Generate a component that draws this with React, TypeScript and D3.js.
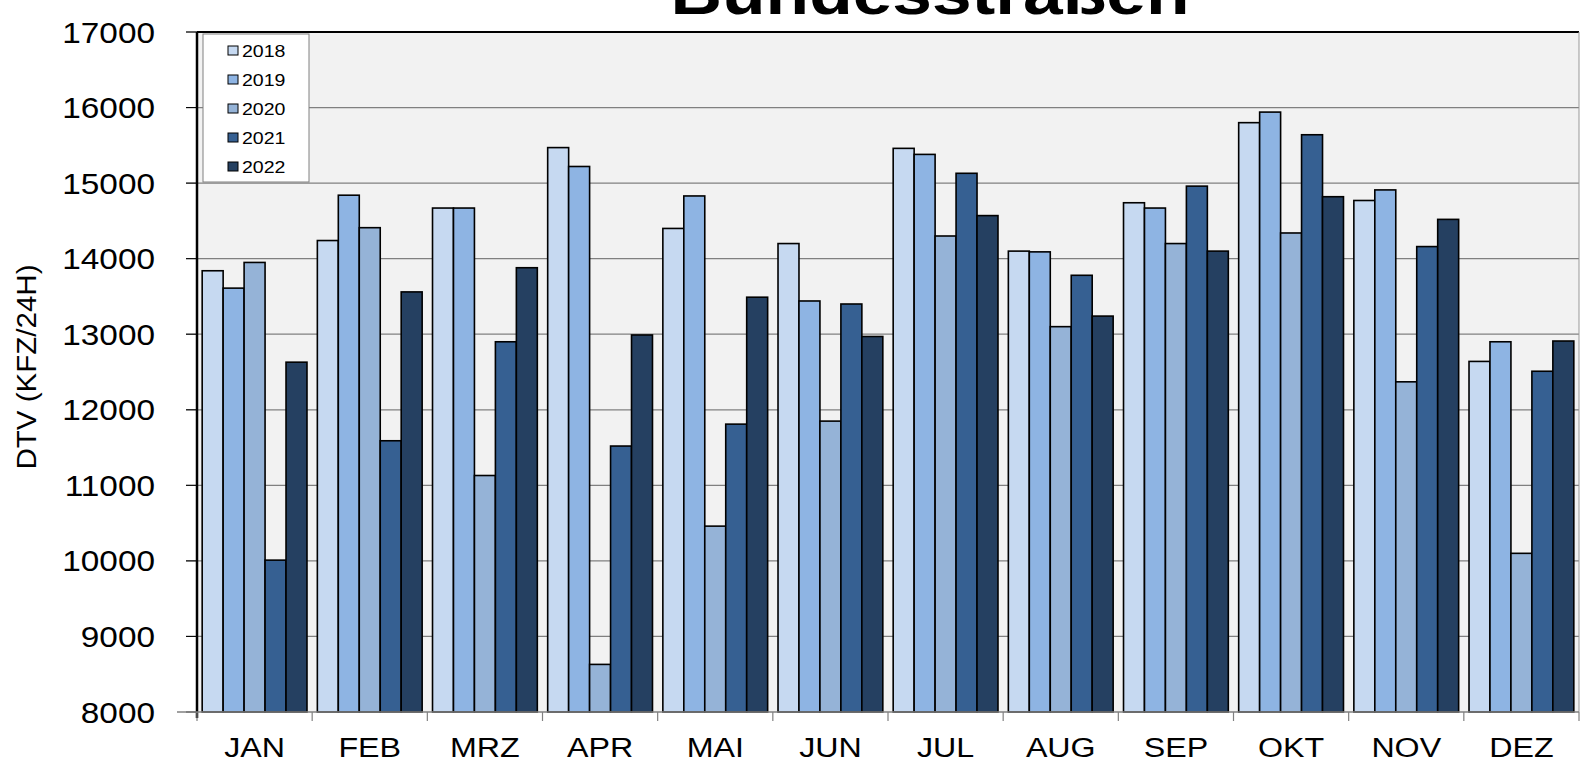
import React, { useEffect, useRef } from 'react';
import * as d3 from 'd3';

// Chart data
const months = ['JAN', 'FEB', 'MRZ', 'APR', 'MAI', 'JUN', 'JUL', 'AUG', 'SEP', 'OKT', 'NOV', 'DEZ'];
const years = ['2018', '2019', '2020', '2021', '2022'];
const values2018 = [13840, 14240, 14670, 15470, 14400, 14200, 15460, 14100, 14740, 15800, 14770, 12640];
const values2019 = [13610, 14840, 14670, 15220, 14830, 13440, 15380, 14090, 14670, 15940, 14910, 12900];
const values2020 = [13950, 14410, 11130, 8630, 10460, 11850, 14300, 13100, 14200, 14340, 12370, 10100];
const values2021 = [10010, 11590, 12900, 11520, 11810, 13400, 15130, 13780, 14960, 15640, 14160, 12510];
const values2022 = [12630, 13560, 13880, 12990, 13490, 12970, 14570, 13240, 14100, 14820, 14520, 12910];
const yTicks = [8000, 9000, 10000, 11000, 12000, 13000, 14000, 15000, 16000, 17000];
const colors = ['#c6d9f1', '#8eb4e3', '#95b3d7', '#366092', '#254061'];

// Plot area in page pixels
const left = 197;
const right = 1579;
const top = 32;
const bottom = 712;
// the original picture is stretched a little horizontally
const stretch = 1.15;

function App() {
    const svgRef = useRef(null);

    useEffect(() => {
        const series = [values2018, values2019, values2020, values2021, values2022];
        const svg = d3.select(svgRef.current).html('');
        const font = '"Liberation Sans", Arial, sans-serif';

        const x = d3.scaleBand().domain(months).range([left, right]).paddingInner(0.09).paddingOuter(0.045);
        const band = d3.scaleBand().domain(years).range([0, x.bandwidth()]);
        const y = d3.scaleLinear().domain([8000, 17000]).range([bottom, top]);
        const step = (right - left) / months.length;

        // Plot background
        svg.append('rect')
            .attr('x', left).attr('y', top)
            .attr('width', right - left).attr('height', bottom - top)
            .attr('fill', '#f2f2f2');

        // Gridlines
        svg.append('g').selectAll('line')
            .data(yTicks.slice(1))
            .enter().append('line')
            .attr('x1', left - 11).attr('x2', right)
            .attr('y1', (d) => y(d)).attr('y2', (d) => y(d))
            .attr('stroke', '#808080').attr('stroke-width', 1.2);

        // Bars
        series.forEach((vals, i) => {
            svg.append('g').selectAll('rect')
                .data(vals)
                .enter().append('rect')
                .attr('x', (d, j) => x(months[j]) + band(years[i]))
                .attr('y', (d) => y(d))
                .attr('width', band.bandwidth())
                .attr('height', (d) => bottom - y(d))
                .attr('fill', colors[i])
                .attr('stroke', '#000')
                .attr('stroke-width', 1.6);
        });

        // Top border and right edge
        svg.append('line').attr('x1', left).attr('x2', right).attr('y1', top).attr('y2', top)
            .attr('stroke', '#000').attr('stroke-width', 2);
        svg.append('line').attr('x1', right).attr('x2', right).attr('y1', top).attr('y2', bottom)
            .attr('stroke', '#999').attr('stroke-width', 1);

        // Y axis
        svg.append('line').attr('x1', left).attr('x2', left).attr('y1', top).attr('y2', bottom + 6)
            .attr('stroke', '#000').attr('stroke-width', 2.5);
        svg.append('g').selectAll('line')
            .data(yTicks)
            .enter().append('line')
            .attr('x1', left - 11).attr('x2', left)
            .attr('y1', (d) => y(d)).attr('y2', (d) => y(d))
            .attr('stroke', '#000').attr('stroke-width', 1);
        svg.append('g').selectAll('text')
            .data(yTicks)
            .enter().append('text')
            .attr('transform', (d) => `translate(155,${y(d) + 10.5}) scale(${stretch},1)`)
            .attr('text-anchor', 'end')
            .attr('font-family', font).attr('font-size', 29)
            .text((d) => d);

        // X axis
        svg.append('line').attr('x1', left - 20).attr('x2', right).attr('y1', bottom).attr('y2', bottom)
            .attr('stroke', '#808080').attr('stroke-width', 1.5);
        svg.append('g').selectAll('line')
            .data(d3.range(months.length + 1))
            .enter().append('line')
            .attr('x1', (d) => left + d * step).attr('x2', (d) => left + d * step)
            .attr('y1', bottom).attr('y2', bottom + 9)
            .attr('stroke', '#808080').attr('stroke-width', 1.2);
        svg.append('g').selectAll('text')
            .data(months)
            .enter().append('text')
            .attr('transform', (d) => `translate(${x(d) + x.bandwidth() / 2},757) scale(${stretch},1)`)
            .attr('text-anchor', 'middle')
            .attr('font-family', font).attr('font-size', 28)
            .text((d) => d);

        // Axis title (glyphs stretched along the text)
        svg.append('text')
            .attr('transform', `translate(36,367) scale(${stretch},1) rotate(-90)`)
            .attr('text-anchor', 'middle')
            .attr('font-family', font)
            .attr('font-size', 24)
            .attr('textLength', 205)
            .attr('lengthAdjust', 'spacingAndGlyphs')
            .text('DTV (KFZ/24H)');

        // Title (cut off at the top)
        svg.append('text')
            .attr('transform', `translate(930,14) scale(${stretch},1)`)
            .attr('text-anchor', 'middle')
            .attr('font-family', font).attr('font-weight', 'bold').attr('font-size', 62)
            .text('Bundesstraßen');

        // Legend
        const legend = svg.append('g');
        legend.append('rect')
            .attr('x', 203).attr('y', 34).attr('width', 106).attr('height', 148)
            .attr('fill', '#fff').attr('stroke', '#808080').attr('stroke-width', 1);
        years.forEach((yr, i) => {
            const cy = 50.5 + i * 29;
            legend.append('rect')
                .attr('x', 228).attr('y', cy - 4.5).attr('width', 10).attr('height', 9)
                .attr('fill', colors[i]).attr('stroke', '#000').attr('stroke-width', 1);
            legend.append('text')
                .attr('transform', `translate(242,${cy + 6}) scale(${stretch},1)`)
                .attr('font-family', font).attr('font-size', 17)
                .text(yr);
        });
    }, []);

    return <svg ref={svgRef} width={1582} height={764} style={{ position: 'absolute', left: 0, top: 0 }}></svg>;
}

export default App;
